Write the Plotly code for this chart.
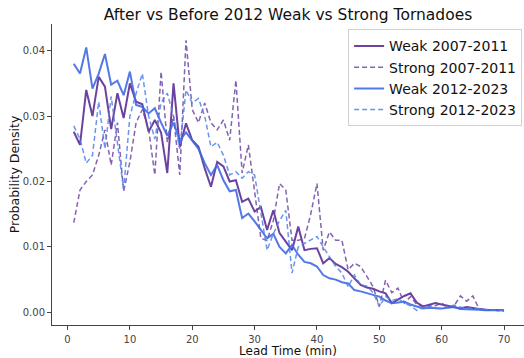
import plotly.graph_objects as go

lead_time = list(range(1, 71))

weak_2007_2011 = [0.0276, 0.0256, 0.0340, 0.0300, 0.0360, 0.0345, 0.0280, 0.0335, 0.0297, 0.0350,
                  0.0322, 0.0318, 0.0276, 0.0294, 0.0275, 0.0213, 0.0350, 0.0253, 0.0289, 0.0263,
                  0.0253, 0.0220, 0.0192, 0.0230, 0.0223, 0.0200, 0.0202, 0.0169, 0.0174, 0.0154,
                  0.0161, 0.0126, 0.0156, 0.0121, 0.0108, 0.0095, 0.0131, 0.0095, 0.0097, 0.0098,
                  0.0075, 0.0083, 0.0074, 0.0069, 0.0062, 0.0052, 0.0042, 0.0038, 0.0036, 0.0032,
                  0.0029, 0.0014, 0.0020, 0.0025, 0.0029, 0.0015, 0.0009, 0.0012, 0.0014, 0.0012,
                  0.0010, 0.0008, 0.0006, 0.0008, 0.0006, 0.0005, 0.0004, 0.0004, 0.0003, 0.0003]

strong_2007_2011 = [0.0137, 0.0187, 0.0200, 0.0210, 0.0240, 0.0279, 0.0225, 0.0290, 0.0185, 0.0230,
                    0.0290, 0.0310, 0.0280, 0.0210, 0.0368, 0.0260, 0.0300, 0.0210, 0.0416, 0.0310,
                    0.0290, 0.0320, 0.0290, 0.0279, 0.0294, 0.0263, 0.0355, 0.0213, 0.0256, 0.0180,
                    0.0113, 0.0110, 0.0140, 0.0197, 0.0187, 0.0110, 0.0110, 0.0113, 0.0150, 0.0197,
                    0.0095, 0.0123, 0.0110, 0.0110, 0.0065, 0.0075, 0.0070, 0.0055, 0.0039, 0.0009,
                    0.0049, 0.0030, 0.0037, 0.0014, 0.0024, 0.0012, 0.0009, 0.0010, 0.0010, 0.0014,
                    0.0007, 0.0010, 0.0025, 0.0017, 0.0025, 0.0005, 0.0004, 0.0003, 0.0003, 0.0002]

weak_2012_2023 = [0.0380, 0.0365, 0.0405, 0.0342, 0.0365, 0.0395, 0.0348, 0.0354, 0.0332, 0.0368,
                  0.0317, 0.0314, 0.0304, 0.0312, 0.0290, 0.0270, 0.0290, 0.0263, 0.0275, 0.0262,
                  0.0250, 0.0228, 0.0210, 0.0225, 0.0202, 0.0185, 0.0187, 0.0144, 0.0151, 0.0139,
                  0.0125, 0.0113, 0.0120, 0.0100, 0.0090, 0.0103, 0.0088, 0.0077, 0.0075, 0.0070,
                  0.0057, 0.0052, 0.0050, 0.0046, 0.0044, 0.0034, 0.0032, 0.0029, 0.0026, 0.0024,
                  0.0018, 0.0014, 0.0015, 0.0016, 0.0012, 0.0009, 0.0006, 0.0007, 0.0006, 0.0006,
                  0.0007, 0.0008, 0.0005, 0.0005, 0.0004, 0.0004, 0.0003, 0.0003, 0.0003, 0.0003]

strong_2012_2023 = [0.0285, 0.0265, 0.0228, 0.0240, 0.0322, 0.0250, 0.0330, 0.0262, 0.0188, 0.0300,
                    0.0335, 0.0365, 0.0300, 0.0265, 0.0320, 0.0335, 0.0300, 0.0250, 0.0340, 0.0320,
                    0.0327, 0.0300, 0.0253, 0.0260, 0.0240, 0.0210, 0.0215, 0.0205, 0.0215, 0.0210,
                    0.0150, 0.0095, 0.0120, 0.0140, 0.0156, 0.0060, 0.0100, 0.0105, 0.0110, 0.0116,
                    0.0100, 0.0085, 0.0070, 0.0060, 0.0039, 0.0057, 0.0042, 0.0040, 0.0030, 0.0009,
                    0.0024, 0.0018, 0.0021, 0.0014, 0.0010, 0.0003, 0.0007, 0.0009, 0.0006, 0.0006,
                    0.0008, 0.0011, 0.0008, 0.0006, 0.0006, 0.0005, 0.0004, 0.0003, 0.0003, 0.0003]

series = [
    ("Weak 2007-2011", weak_2007_2011, "rgba(92,45,150,0.9)", "solid", 2.0),
    ("Strong 2007-2011", strong_2007_2011, "rgba(110,70,165,0.85)", "5px,3px", 1.5),
    ("Weak 2012-2023", weak_2012_2023, "rgba(65,105,225,0.9)", "solid", 2.0),
    ("Strong 2012-2023", strong_2012_2023, "rgba(80,130,235,0.85)", "5px,3px", 1.5),
]

fig = go.Figure()
for name, vals, color, dash, w in series:
    fig.add_trace(go.Scatter(x=lead_time, y=vals, mode="lines", name=name,
                             line=dict(color=color, dash=dash, width=w)))

font_family = "DejaVu Sans"
fig.update_layout(
    width=524, height=358,
    margin=dict(l=52, r=0, t=24, b=33, autoexpand=False),
    paper_bgcolor="white", plot_bgcolor="white",
    font=dict(family=font_family, color="#222"),
    title=dict(text="After vs Before 2012 Weak vs Strong Tornadoes", x=0.5, xanchor="center",
               xref="paper", y=1 - 15 / 358, yanchor="middle", font=dict(size=15.5, color="#111")),
    legend=dict(x=0.996, y=0.982, xanchor="right", yanchor="top",
                bgcolor="rgba(255,255,255,0.9)", bordercolor="#d0d0d0", borderwidth=1,
                font=dict(family=font_family, size=14, color="#111"), itemwidth=30, tracegroupgap=0),
    showlegend=True,
)
fig.update_xaxes(range=[-2.49, 73.2], tickmode="array", tickvals=[0, 10, 20, 30, 40, 50, 60, 70],
                 showgrid=False, zeroline=False, showline=True, linecolor="#444", linewidth=1,
                 ticks="outside", ticklen=4, tickcolor="#444", tickfont=dict(size=10, color="#444"),
                 ticklabelstandoff=1,
                 title=dict(text="Lead Time (min)", font=dict(size=12, color="#111"), standoff=4))
fig.update_yaxes(range=[-0.00194, 0.04408], tickmode="array", tickvals=[0, 0.01, 0.02, 0.03, 0.04],
                 tickformat=".2f",
                 showgrid=False, zeroline=False, showline=True, linecolor="#444", linewidth=1,
                 ticks="outside", ticklen=4, tickcolor="#444", tickfont=dict(size=10, color="#444"),
                 title=dict(text="Probability Density", font=dict(size=12.5, color="#111"), standoff=0))

fig.write_html("out.html", config={"displayModeBar": False},
               post_script="document.body.style.margin='0px';")
